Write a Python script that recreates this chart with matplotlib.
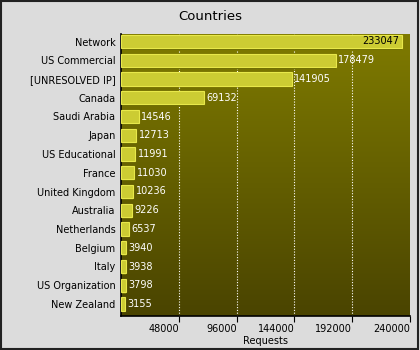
import matplotlib

matplotlib.use("Agg")
import matplotlib.pyplot as plt
import numpy as np
from matplotlib.colors import LinearSegmentedColormap
from matplotlib.patches import Rectangle

countries = [
    "Network", "US Commercial", "[UNRESOLVED IP]", "Canada", "Saudi Arabia",
    "Japan", "US Educational", "France", "United Kingdom", "Australia",
    "Netherlands", "Belgium", "Italy", "US Organization", "New Zealand",
]
requests = [233047, 178479, 141905, 69132, 14546, 12713, 11991, 11030,
            10236, 9226, 6537, 3940, 3938, 3798, 3155]
xticks = [48000, 96000, 144000, 192000, 240000]

plt.rcParams.update({"font.family": "DejaVu Sans", "font.size": 7})

fig = plt.figure(figsize=(4.2, 3.5), dpi=100, facecolor="#dcdcdc")
ax = fig.add_axes([121 / 420, 34 / 350, 289 / 420, 282 / 350])

xmax = 240000
n = len(countries)
ytop, ybot = -0.4, n - 1 + 0.64
# gradient background
grad = LinearSegmentedColormap.from_list("olive", ["#4a4400", "#7f7b00"])
ax.imshow(np.linspace(0, 1, 256).reshape(-1, 1), aspect="auto", cmap=grad,
          origin="lower", extent=[0, xmax, ybot, ytop], zorder=0)

for xt in xticks[:-1]:
    ax.axvline(xt, color="white", linestyle=(0, (1, 1.5)), linewidth=0.8, zorder=1)

y = np.arange(n)
ax.barh(y + 0.1, requests, height=0.7, color="#6a6a00", zorder=2)
ax.barh(y, requests, height=0.7, color="#cccc33", edgecolor="#e8e84a",
        linewidth=0.8, zorder=3)

for i, v in enumerate(requests):
    if i == 0:
        ax.text(v - 2000, i, str(v), ha="right", va="center", color="black",
                fontsize=7, zorder=4)
    else:
        ax.text(v + 2000, i, str(v), ha="left", va="center", color="white",
                fontsize=7, zorder=4)

ax.set_xlim(0, xmax)
ax.set_ylim(ybot, ytop)
ax.set_yticks(y)
ax.set_yticklabels(countries)
ax.set_xticks(xticks)
ax.set_xticklabels([str(t) for t in xticks], ha="right")
ax.tick_params(axis="y", length=0, pad=4)
ax.tick_params(axis="x", length=4, direction="out", pad=2)
ax.set_xlabel("Requests", labelpad=1)
for s in ["top", "right"]:
    ax.spines[s].set_visible(False)
ax.spines["left"].set_linewidth(1.2)
ax.spines["bottom"].set_linewidth(1.2)

fig.text(0.5, 1 - 16 / 350, "Countries", ha="center", va="center", fontsize=9.5)

fig.patches.append(Rectangle((0.5 / 420, 1.5 / 350), 417.5 / 420, 348 / 350,
                             transform=fig.transFigure, fill=False,
                             edgecolor="#222222", linewidth=1.5))

fig.savefig("out.png", dpi=100, facecolor=fig.get_facecolor())
